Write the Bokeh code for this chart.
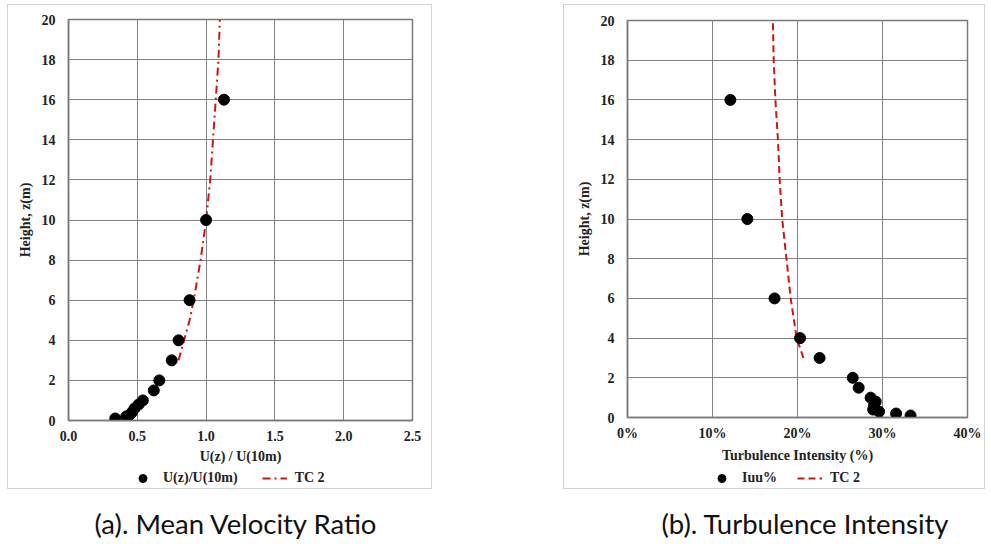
from bokeh.plotting import figure
from bokeh.models import (Range1d, FixedTicker, NumeralTickFormatter, Legend, LegendItem, Div, Spacer)
from bokeh.layouts import row, column
from bokeh.embed import file_html
from bokeh.resources import INLINE

# ---- data: (a) mean velocity ratio ----
vel_ratio = [0.34, 0.42, 0.44, 0.46, 0.48, 0.51, 0.54, 0.62, 0.66, 0.75, 0.80, 0.88, 1.00, 1.13]
vel_height = [0.1, 0.2, 0.25, 0.4, 0.6, 0.8, 1.0, 1.5, 2.0, 3.0, 4.0, 6.0, 10.0, 16.0]
tc2_vel_ratio = [0.80, 0.84, 0.88, 0.91, 0.96, 1.00, 1.03, 1.05, 1.07, 1.09, 1.10]
tc2_vel_height = [3, 4, 5, 6, 8, 10, 12, 14, 16, 18, 20]

# ---- data: (b) turbulence intensity ----
iuu = [0.333, 0.316, 0.296, 0.289, 0.290, 0.292, 0.286, 0.272, 0.265, 0.226, 0.203, 0.173, 0.141, 0.121]
iuu_height = [0.1, 0.2, 0.3, 0.4, 0.6, 0.8, 1.0, 1.5, 2.0, 3.0, 4.0, 6.0, 10.0, 16.0]
tc2_iuu = [0.207, 0.199, 0.192, 0.187, 0.182, 0.179, 0.177, 0.174, 0.172, 0.171]
tc2_iuu_height = [3, 4, 6, 8, 10, 12, 14, 16, 18, 20]

height_ticks = [0, 2, 4, 6, 8, 10, 12, 14, 16, 18, 20]
vel_ticks = [0.0, 0.5, 1.0, 1.5, 2.0, 2.5]
ti_ticks = [0.0, 0.1, 0.2, 0.3, 0.4]

SERIF = "Liberation Serif"
GRID = "#838383"
RED = "#d01515"
FS = "14px"
DASH_A = "8 4 2 4"
DASH_B = "7 4"


def style(p, xlabel, lab_off, title_off):
    p.xgrid.grid_line_color = GRID
    p.ygrid.grid_line_color = GRID
    p.outline_line_color = "#7a7a7a"
    p.outline_line_width = 1.5
    for ax in (p.xaxis[0], p.yaxis[0]):
        ax.axis_line_color = "#7a7a7a"
        ax.axis_line_width = 1.5
        ax.major_tick_line_color = None
        ax.minor_tick_line_color = None
        ax.major_tick_out = 0
        ax.major_tick_in = 0
        ax.major_label_text_font = SERIF
        ax.major_label_text_font_style = "bold"
        ax.major_label_text_font_size = FS
        ax.major_label_text_color = "#222222"
        ax.axis_label_text_font = SERIF
        ax.axis_label_text_font_style = "bold"
        ax.axis_label_text_font_size = FS
        ax.axis_label_text_color = "#222222"
    p.xaxis.axis_label = xlabel
    p.yaxis.axis_label = "Height, z(m)"
    p.xaxis.major_label_standoff = lab_off
    p.xaxis.axis_label_standoff = title_off
    p.yaxis.major_label_standoff = 13
    p.yaxis.axis_label_standoff = 6
    p.yaxis.ticker = FixedTicker(ticks=height_ticks)
    p.y_range = Range1d(0, 20)


def legend_fig(width, x0, spacing, pts_label, xs, ys, lxs, lys, dash):
    # legend-only strip: the ranges are far from the data so no mark is drawn,
    # only the legend samples
    lf = figure(width=width, height=20, output_backend="svg", toolbar_location=None,
                x_axis_type=None, y_axis_type=None, min_border=0,
                x_range=Range1d(100, 101), y_range=Range1d(100, 101))
    lf.grid.visible = False
    lf.outline_line_color = None
    r_pts = lf.scatter(xs, ys, size=11, fill_color="black", line_color="black")
    r_line = lf.line(lxs, lys, line_color=RED, line_width=2, line_dash=dash)
    leg = Legend(items=[LegendItem(label=pts_label, renderers=[r_pts]),
                        LegendItem(label="TC 2", renderers=[r_line])],
                 orientation="horizontal", location=(x0, 0), padding=0, margin=0,
                 spacing=spacing, glyph_width=25, glyph_height=20, label_height=20, label_standoff=8,
                 label_text_font=SERIF, label_text_font_style="bold", label_text_font_size=FS,
                 label_text_color="#222222", border_line_color=None, background_fill_alpha=0)
    lf.add_layout(leg)
    return lf


box_style = {"border": "1px solid #d4d4d4"}

# ---- (a) ----
pa = figure(width=423, height=463, output_backend="svg", toolbar_location=None,
            min_border_left=60, min_border_right=19, min_border_top=14, min_border_bottom=48,
            x_range=Range1d(0, 2.5))
style(pa, "U(z) / U(10m)", 10, 5)
pa.xaxis.ticker = FixedTicker(ticks=vel_ticks)
pa.xaxis.formatter = NumeralTickFormatter(format="0.0")
pa.line(tc2_vel_ratio, tc2_vel_height, line_color=RED, line_width=2, line_dash=DASH_A)
pa.scatter(vel_ratio, vel_height, size=11, fill_color="black", line_color="black")
la = legend_fig(423, 62, 24, "U(z)/U(10m)", vel_ratio, vel_height,
                tc2_vel_ratio, tc2_vel_height, DASH_A)

# ---- (b) ----
pb = figure(width=420, height=463, output_backend="svg", toolbar_location=None,
            min_border_left=63, min_border_right=17, min_border_top=15, min_border_bottom=51,
            x_range=Range1d(0, 0.4))
style(pb, "Turbulence Intensity (%)", 8, 4)
pb.xaxis.ticker = FixedTicker(ticks=ti_ticks)
pb.xaxis.formatter = NumeralTickFormatter(format="0%")
pb.line(tc2_iuu, tc2_iuu_height, line_color=RED, line_width=2, line_dash=DASH_B)
pb.scatter(iuu, iuu_height, size=11, fill_color="black", line_color="black")
lb = legend_fig(420, 82, 20, "Iuu%", iuu, iuu_height, tc2_iuu, tc2_iuu_height, DASH_B)

box_a = column(pa, la, spacing=0, styles=box_style)
box_b = column(pb, lb, spacing=0, styles=box_style)

cap_style = {"font-family": "Lato", "font-size": "27.5px", "text-align": "center",
             "color": "#111111", "margin-top": "18px", "line-height": "34px"}
cap_a = Div(text="(a). Mean Velocity Ratio", width=425, height=48,
            styles=dict(cap_style, **{"padding-left": "22px"}))
cap_b = Div(text="(b). Turbulence Intensity", width=422, height=48,
            styles=dict(cap_style, **{"padding-left": "32px"}))

layout = row(Spacer(width=7),
             column(Spacer(height=4),
                    row(box_a, Spacer(width=131), box_b),
                    row(cap_a, Spacer(width=131), cap_b)))

open("out.html", "w").write(file_html(layout, INLINE))
